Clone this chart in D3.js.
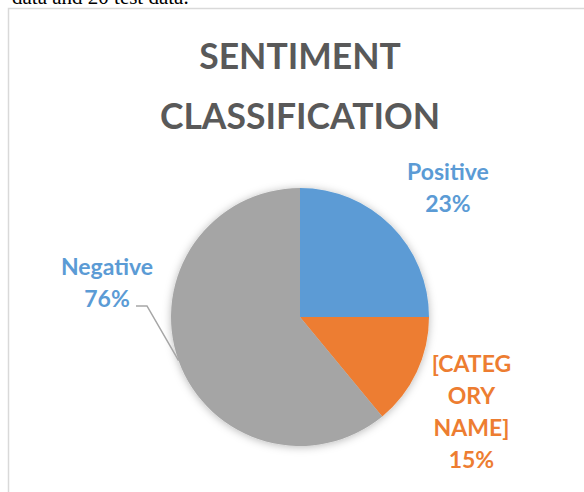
<!DOCTYPE html>
<meta charset="utf-8">
<style>
body { margin: 0; background: #fff; }
svg { display: block; font-family: Lato, 'Open Sans', sans-serif; }
</style>
<body>
<svg class="piechart"></svg>

<script src="https://d3js.org/d3.v7.min.js"></script>
<script>
// slices, clockwise from 12 o'clock (sizes)
let categories = ['Positive', '[CATEGORY NAME]', 'Negative'];
let sliceValues = [25, 14, 61];
// percentages printed in the labels (they don't add up, kept as shown)
let labelPercents = ['23%', '15%', '76%'];
let labelLines = [['Positive'], ['[CATEG', 'ORY', 'NAME]'], ['Negative']];
let colorCode = ['#5B9BD5', '#ED7D31', '#A5A5A5'];
let labelColors = ['#5B9BD5', '#ED7D31', '#5B9BD5'];
let titleLines = ['SENTIMENT', 'CLASSIFICATION'];

// layout
let rwidth = 584, rheight = 492;
let cx = 300, cy = 317, radius = 129;
let labelRadius = 196;
let labelAngle = [49, 119, 280]; // degrees, where each label block is centred
let lineH = 32;

let svg = d3.select('.piechart')
    .attr('width', rwidth)
    .attr('height', rheight);

// cut-off line of the document text above the chart
svg.append('text')
    .attr('x', 12)
    .attr('y', 3.5)
    .style('font-family', "'Liberation Serif', serif")
    .style('font-size', '21px')
    .style('fill', '#000')
    .text('data and 20 test data.');

// chart frame
svg.append('rect')
    .attr('x', 8.5).attr('y', 8.5)
    .attr('width', rwidth + 20).attr('height', rheight + 20)
    .style('fill', '#fff')
    .style('stroke', '#d9d9d9')
    .style('stroke-width', 1.5);

// title
svg.selectAll('.title')
    .data(titleLines)
    .join('text')
    .attr('class', 'title')
    .attr('x', cx)
    .attr('y', (d, i) => 69 + i * 60)
    .attr('text-anchor', 'middle')
    .style('font-weight', 'bold')
    .style('font-size', '35.5px')
    .style('fill', '#595959')
    .text(d => d);

// soft shadow around the pie
let defs = svg.append('defs');
defs.append('filter')
    .attr('id', 'shadow')
    .attr('x', '-20%').attr('y', '-20%')
    .attr('width', '140%').attr('height', '140%')
    .append('feDropShadow')
    .attr('dx', 0).attr('dy', 1)
    .attr('stdDeviation', 4)
    .attr('flood-color', '#000')
    .attr('flood-opacity', 0.28);

let pie = d3.pie().sort(null).value(d => d)(sliceValues);
let arc = d3.arc().innerRadius(0).outerRadius(radius);

let g = svg.append('g').attr('transform', `translate(${cx},${cy})`);

g.append('g')
    .style('filter', 'url(#shadow)')
    .selectAll('path')
    .data(pie)
    .join('path')
    .attr('d', arc)
    .style('fill', (d, i) => colorCode[i]);

// labels
let toXY = (deg, r) => {
    let a = deg * Math.PI / 180;
    return [r * Math.sin(a), -r * Math.cos(a)];
};

labelLines.forEach((lines, i) => {
    let all = lines.concat([labelPercents[i]]);
    let [lx, ly] = toXY(labelAngle[i], labelRadius);
    let firstBase = ly - all.length * lineH / 2 + 24;
    g.append('text')
        .attr('text-anchor', 'middle')
        .style('font-weight', 'bold')
        .style('font-size', '23px')
        .style('fill', labelColors[i])
        .selectAll('tspan')
        .data(all)
        .join('tspan')
        .attr('x', lx)
        .attr('y', (d, j) => firstBase + j * lineH)
        .text(d => d);
});

// leader line for Negative, to the middle of its slice edge
let negIdx = 2;
let edge = d3.arc().innerRadius(radius).outerRadius(radius).centroid(pie[negIdx]);
let [nx, ny] = toXY(labelAngle[negIdx], labelRadius);
let lineY = ny - 2 * lineH / 2 + 24 + lineH - 1;
g.append('path')
    .attr('d', d3.line()([[nx + 29, lineY], [nx + 40, lineY], edge]))
    .style('fill', 'none')
    .style('stroke', '#A6A6A6')
    .style('stroke-width', 1.5);
</script>
</body>
